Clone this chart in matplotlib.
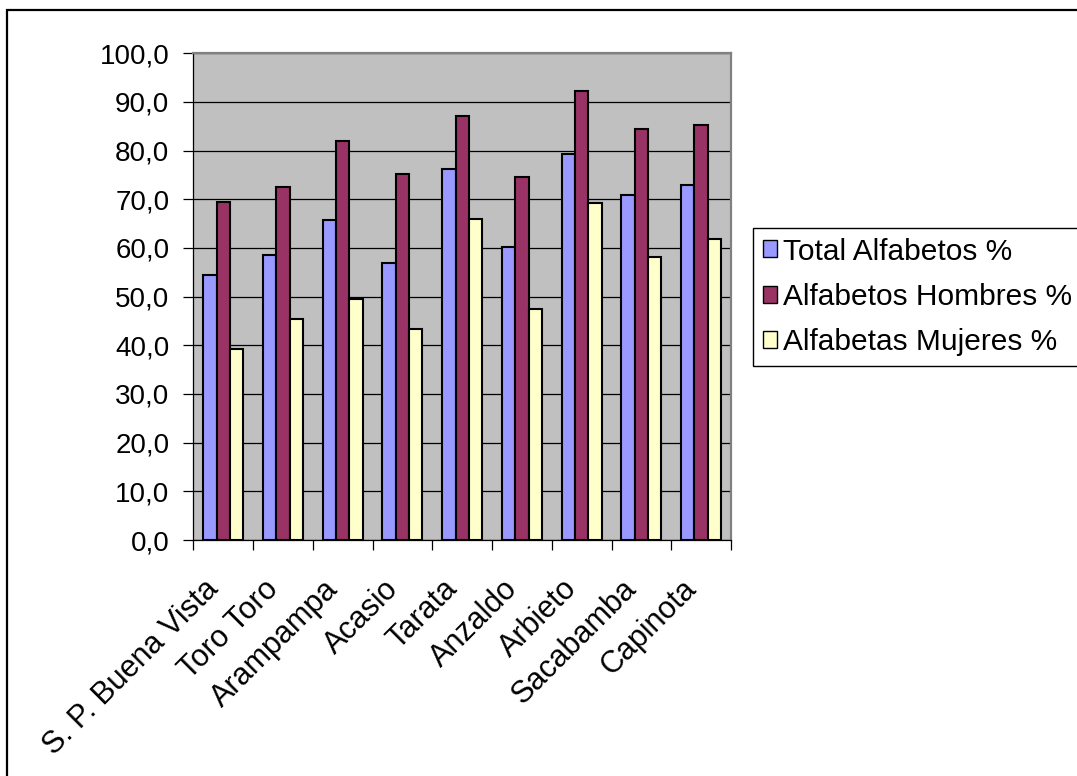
import matplotlib
matplotlib.use("Agg")
import matplotlib.pyplot as plt
import numpy as np
from matplotlib.patches import Rectangle
from matplotlib.transforms import ScaledTranslation

# Literacy rates by municipality (%)
municipios = ["S. P. Buena Vista", "Toro Toro", "Arampampa", "Acasio", "Tarata",
              "Anzaldo", "Arbieto", "Sacabamba", "Capinota"]
total_alfabetos = [54.4, 58.5, 65.8, 56.9, 76.2, 60.2, 79.4, 70.8, 72.9]
alfabetos_hombres = [69.5, 72.5, 81.9, 75.3, 87.2, 74.6, 92.2, 84.4, 85.2]
alfabetas_mujeres = [39.2, 45.4, 49.5, 43.3, 65.9, 47.5, 69.2, 58.1, 61.8]
series_labels = ["Total Alfabetos %", "Alfabetos Hombres %", "Alfabetas Mujeres %"]
y_ticks = [0, 10, 20, 30, 40, 50, 60, 70, 80, 90, 100]

colors = ["#9999FF", "#993366", "#FFFFCC"]

plt.rcParams["font.family"] = ["Liberation Sans", "DejaVu Sans"]

W, H = 1077, 776
fig = plt.figure(figsize=(W / 100, H / 100), dpi=100)
fig.patch.set_facecolor("white")

# outer chart frame (right and bottom edges fall outside the canvas)
fig.patches.append(Rectangle((7 / W, -0.1), 1.2, (H - 10) / H + 0.1,
                             transform=fig.transFigure, fill=False,
                             edgecolor="black", linewidth=1.6, zorder=0))

ax = fig.add_axes([193.3 / W, (H - 540) / H, (731 - 193.3) / W, (540 - 53.3) / H])
ax.set_facecolor("#C0C0C0")

n = len(municipios)
x = np.arange(n)
bw = 1 / 4.5
series = [total_alfabetos, alfabetos_hombres, alfabetas_mujeres]
for i, (vals, c, lab) in enumerate(zip(series, colors, series_labels)):
    ax.bar(x + (i - 1) * bw, vals, width=bw, color=c, edgecolor="black",
           linewidth=1.5, label=lab, zorder=3)

ax.set_xlim(-0.5, n - 0.5)
ax.set_ylim(0, 100)

# grid
ax.set_yticks(y_ticks)
ax.set_yticklabels([f"{v:.1f}".replace(".", ",") for v in y_ticks], fontsize=20)
ax.yaxis.grid(True, color="black", linewidth=0.9, zorder=1)
ax.set_axisbelow(True)
ax.tick_params(axis="y", direction="out", length=7.2, width=0.9, pad=10, colors="black")

# category boundaries carry the tick marks, centres carry the labels
ax.set_xticks(np.arange(n + 1) - 0.5)
ax.set_xticklabels([])
ax.tick_params(axis="x", which="major", direction="out", length=7.2, width=0.9)
ax.set_xticks(x, minor=True)
ax.set_xticklabels(municipios, minor=True, rotation=45, ha="right", va="center",
                   rotation_mode="anchor", fontsize=22)
ax.tick_params(axis="x", which="minor", length=0, pad=32)
shift = ScaledTranslation(-0.09, 0, fig.dpi_scale_trans)
for lbl in ax.get_xticklabels(minor=True):
    lbl.set_transform(lbl.get_transform() + shift)

for side in ("top", "right"):
    ax.spines[side].set_color("#808080")
    ax.spines[side].set_linewidth(1.6)
for side in ("left", "bottom"):
    ax.spines[side].set_color("black")
    ax.spines[side].set_linewidth(0.9)

leg = ax.legend(loc="upper left", bbox_to_anchor=(752.7 / W, (H - 227.7) / H),
                bbox_transform=fig.transFigure, borderaxespad=0, fontsize=21.5,
                frameon=True, fancybox=False, edgecolor="black", framealpha=1,
                handlelength=0.5, handleheight=0.5, handletextpad=0.18,
                borderpad=0.33, labelspacing=0.58)
leg.get_frame().set_linewidth(1.0)
for h in leg.legend_handles:
    h.set_linewidth(1.0)

fig.savefig("out.png", dpi=100)
